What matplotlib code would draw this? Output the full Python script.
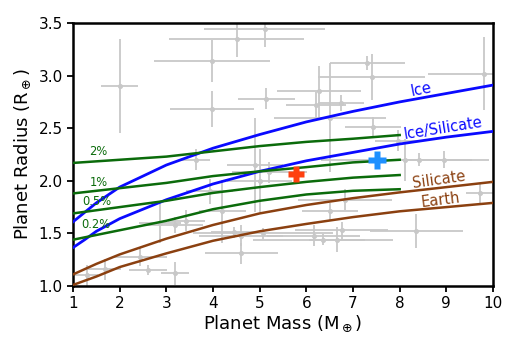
import matplotlib
matplotlib.use("Agg")
import matplotlib.pyplot as plt

# Composition curves (mass in Earth masses, radius in Earth radii)
curve_mass = [1, 1.25, 1.5, 2, 3, 4, 5, 6, 7, 8, 9, 10]
ice_radius = [1.61, 1.70, 1.79, 1.94, 2.15, 2.31, 2.44, 2.56, 2.66, 2.75, 2.83, 2.91]
ice_silicate_radius = [1.365, 1.44, 1.52, 1.64, 1.82, 1.97, 2.09, 2.19, 2.27, 2.35, 2.415, 2.47]
silicate_radius = [1.11, 1.16, 1.21, 1.30, 1.45, 1.58, 1.69, 1.77, 1.835, 1.89, 1.94, 1.99]
earth_radius = [1.01, 1.05, 1.09, 1.18, 1.31, 1.43, 1.52, 1.59, 1.655, 1.71, 1.75, 1.79]

# H/He envelope curves (end at 8 Earth masses)
env_mass = [1, 2, 3, 4, 5, 6, 7, 8]
env_2pct = [2.17, 2.20, 2.23, 2.28, 2.33, 2.37, 2.40, 2.435]
env_1pct = [1.88, 1.93, 1.98, 2.045, 2.09, 2.13, 2.175, 2.20]
env_05pct = [1.69, 1.75, 1.81, 1.885, 1.94, 1.99, 2.03, 2.055]
env_02pct = [1.44, 1.53, 1.62, 1.73, 1.81, 1.87, 1.905, 1.92]
env_labels = ["2%", "1%", "0.5%", "0.2%"]

# Known planets with measured masses and radii
planet_mass = [2.00, 3.98, 3.98, 4.51, 5.11, 5.14, 6.28, 6.21, 6.74, 7.31,
               7.40, 6.51, 9.81, 4.90, 7.43, 7.97, 3.64, 2.87, 3.18, 3.43,
               2.43, 2.61, 3.18, 1.29, 1.68, 3.93, 4.20, 4.61, 4.45, 4.61,
               5.00, 5.21, 5.08, 6.16, 6.36, 6.65, 6.76, 6.51, 6.83, 8.11,
               8.42, 8.94, 9.72, 8.36]
planet_radius = [2.90, 3.14, 2.68, 3.35, 3.44, 2.78, 2.85, 2.72, 2.74, 3.12,
                 2.99, 2.60, 3.02, 2.15, 2.51, 2.38, 2.20, 1.60, 1.58, 1.62,
                 1.28, 1.15, 1.12, 1.10, 1.16, 1.90, 1.71, 1.48, 1.51, 1.31,
                 2.00, 2.08, 1.50, 1.48, 1.44, 1.44, 1.53, 1.71, 1.82, 2.20,
                 2.20, 2.20, 1.88, 1.52]
planet_mass_err = [0.40, 1.25, 0.90, 1.45, 1.30, 0.61, 0.90, 0.65, 0.50, 0.80,
                   1.14, 1.20, 1.20, 0.60, 0.60, 0.50, 0.30, 0.45, 0.60, 0.40,
                   0.59, 0.40, 0.30, 0.25, 0.35, 0.50, 0.50, 0.90, 0.50, 0.78,
                   0.70, 0.80, 1.50, 1.00, 1.50, 0.60, 1.00, 0.60, 1.00, 1.80,
                   0.50, 0.60, 0.30, 1.00]
planet_radius_err = [0.45, 0.20, 0.17, 0.17, 0.17, 0.10, 0.24, 0.12, 0.08, 0.07,
                     0.22, 0.52, 0.35, 0.45, 0.10, 0.10, 0.10, 0.19, 0.08, 0.10,
                     0.09, 0.05, 0.11, 0.10, 0.10, 0.12, 0.30, 0.10, 0.05, 0.10,
                     0.30, 0.10, 0.05, 0.10, 0.05, 0.12, 0.08, 0.08, 0.10, 0.20,
                     0.06, 0.08, 0.10, 0.16]

# Highlighted planets
red_planet = (5.78, 2.065)
blue_planet = (7.51, 2.20)

fig = plt.figure(figsize=(5.17, 3.44), dpi=100)
ax = fig.add_axes([0.1412, 0.1686, 0.8124, 0.7645])

ax.errorbar(planet_mass, planet_radius, xerr=planet_mass_err, yerr=planet_radius_err,
            fmt="o", ms=2.6, color="#c8c8c8", ecolor="#c8c8c8", elinewidth=1.3,
            capsize=0, zorder=1)

blue = "#0a0aff"
green = "#0b6b0b"
brown = "#8b4010"

ax.plot(curve_mass, ice_radius, color=blue, lw=2, zorder=3)
ax.plot(curve_mass, ice_silicate_radius, color=blue, lw=2, zorder=3)
ax.plot(curve_mass, silicate_radius, color=brown, lw=1.8, zorder=3)
ax.plot(curve_mass, earth_radius, color=brown, lw=1.8, zorder=3)

for env in (env_2pct, env_1pct, env_05pct, env_02pct):
    ax.plot(env_mass, env, color=green, lw=1.8, zorder=3)

label_pos = [(1.54, 2.275), (1.56, 1.98), (1.50, 1.80), (1.49, 1.58)]
for text, (mx, ry) in zip(env_labels, label_pos):
    ax.text(mx, ry, text, color=green, fontsize=8.3, ha="center", va="center")

ax.text(8.46, 2.87, "Ice", color=blue, fontsize=10.5, rotation=11,
        ha="center", va="center")
ax.text(8.92, 2.50, "Ice/Silicate", color=blue, fontsize=10.5, rotation=9,
        ha="center", va="center")
ax.text(8.85, 2.01, "Silicate", color=brown, fontsize=10.5, rotation=8,
        ha="center", va="center")
ax.text(8.88, 1.82, "Earth", color=brown, fontsize=10.5, rotation=7,
        ha="center", va="center")

ax.plot(*red_planet, marker="P", ms=12, color="#ff4010", mec="none", zorder=5)
ax.plot(*blue_planet, marker="P", ms=13, color="#1e90ff", mec="none", zorder=5)

ax.set_xlim(1, 10)
ax.set_ylim(1.0, 3.5)
ax.set_xticks(range(1, 11))
ax.set_yticks([1.0, 1.5, 2.0, 2.5, 3.0, 3.5])
ax.tick_params(direction="out", length=4, width=1.3, labelsize=11)
for spine in ax.spines.values():
    spine.set_linewidth(1.8)

ax.set_xlabel(r"Planet Mass (M$_\oplus$)", fontsize=13, labelpad=2)
ax.set_ylabel(r"Planet Radius (R$_\oplus$)", fontsize=13, labelpad=4)

fig.savefig("out.png", dpi=100)
